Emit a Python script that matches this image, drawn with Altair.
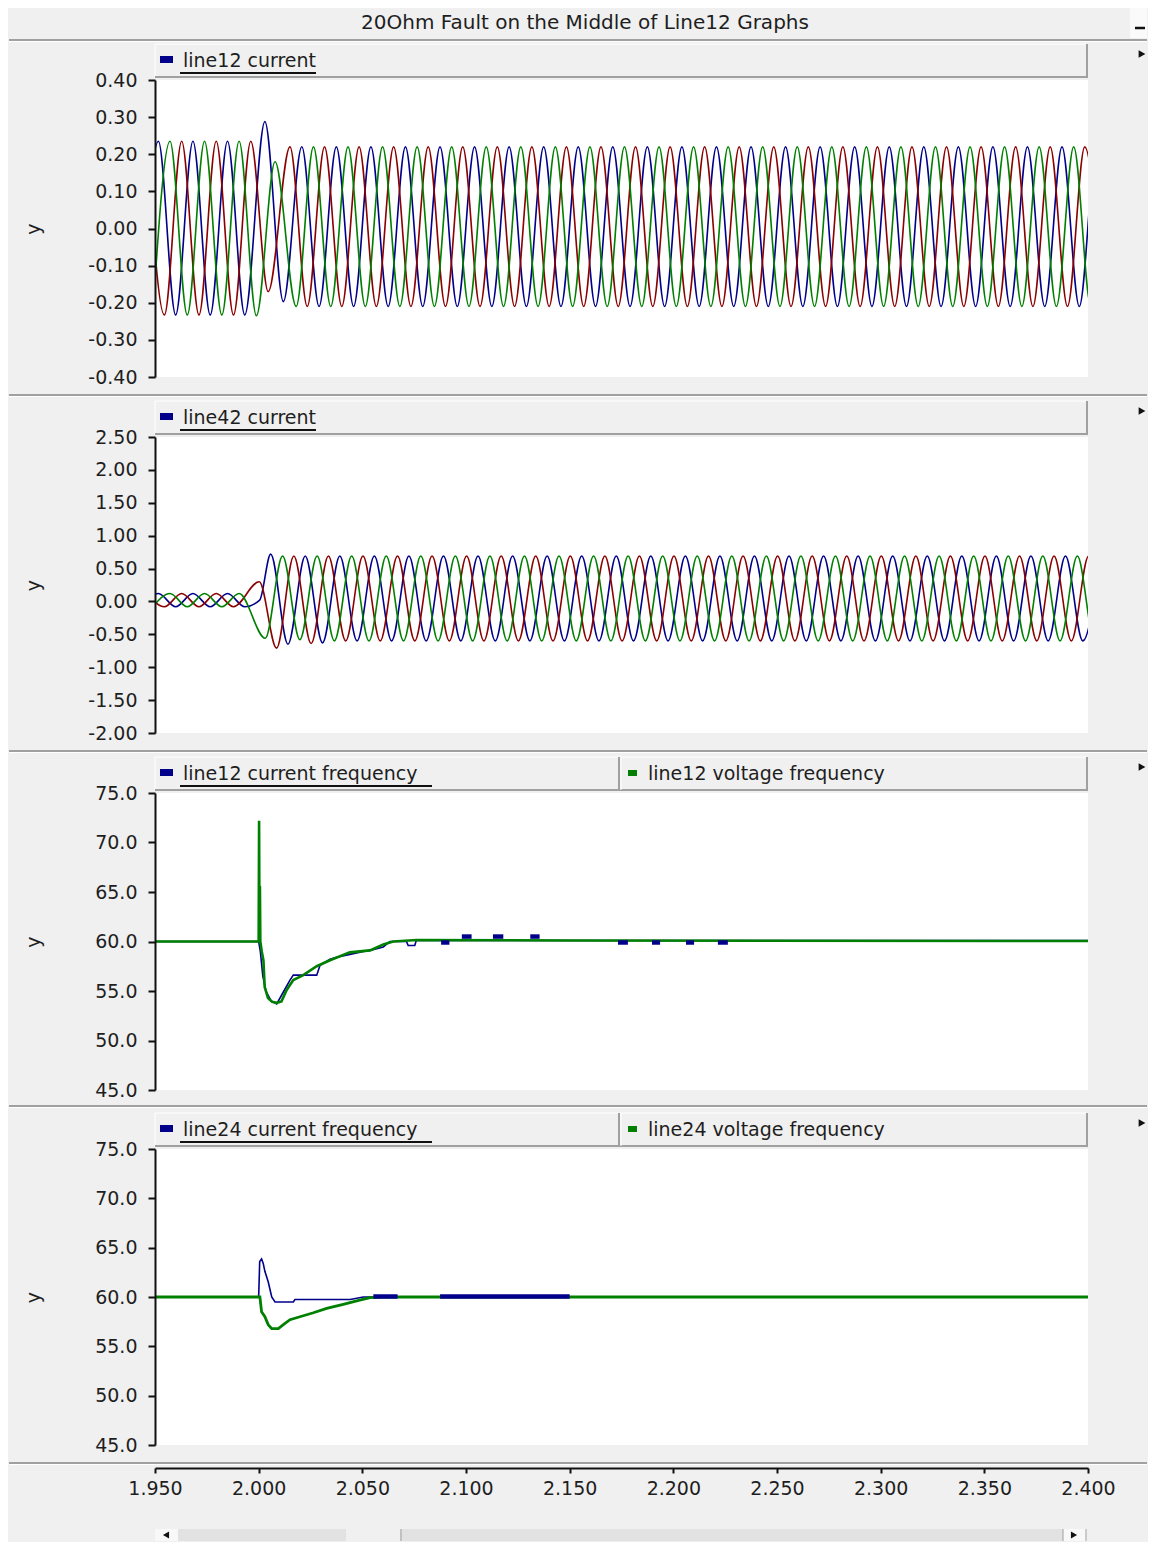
import altair as alt
import pandas as pd

# ---------------------------------------------------------------- text / style
FONT = "DejaVu Sans"
TXT = "#1e1e1e"
BLUE = "#00008b"
RED = "#8b0000"
GREEN = "#008000"
BG = "#f0f0f0"
EDGE = "#a0a0a0"

TITLE = "20Ohm Fault on the Middle of Line12 Graphs"
LEG1 = ["line12 current"]
LEG2 = ["line42 current"]
LEG3 = ["line12 current frequency", "line12 voltage frequency"]
LEG4 = ["line24 current frequency", "line24 voltage frequency"]

X_DOMAIN = [1.95, 2.40]
X_TICKS = [1.95, 2.00, 2.05, 2.10, 2.15, 2.20, 2.25, 2.30, 2.35, 2.40]
Y1_TICKS = [-0.4, -0.3, -0.2, -0.1, 0.0, 0.1, 0.2, 0.3, 0.4]
Y2_TICKS = [-2.0, -1.5, -1.0, -0.5, 0.0, 0.5, 1.0, 1.5, 2.0, 2.5]
YF_TICKS = [45, 50, 55, 60, 65, 70, 75]

# 60 Hz waveforms: one extremum every half cycle
HALF_PERIOD = 1 / 120

# ---------------------------------------------------------------- panel 1: line12 current (3 phases)
L12_A_PRE_T0 = 1.9433
L12_A_PRE = [-0.233, 0.235, -0.233, 0.235, -0.233, 0.235, -0.233]
L12_A_MID_T = [2.0030, 2.0119]
L12_A_MID_V = [0.288, -0.197]
L12_A_POST_T0 = 2.0208
L12_A_POST = [
    0.22, -0.21, 0.22, -0.21, 0.22, -0.21, 0.22, -0.21,
    0.22, -0.21, 0.22, -0.21, 0.22, -0.21, 0.22, -0.21,
    0.22, -0.21, 0.22, -0.21, 0.22, -0.21, 0.22, -0.21,
    0.22, -0.21, 0.22, -0.21, 0.22, -0.21, 0.22, -0.21,
    0.22, -0.21, 0.22, -0.21, 0.22, -0.21, 0.22, -0.21,
    0.22, -0.21, 0.22, -0.21, 0.22, -0.21, 0.22, -0.21,
]

L12_B_PRE_T0 = 1.9489
L12_B_PRE = [-0.233, 0.235, -0.233, 0.235, -0.233, 0.235, -0.235]
L12_B_MID_T = [2.0079]
L12_B_MID_V = [0.18]
L12_B_POST_T0 = 2.0181
L12_B_POST = [
    -0.21, 0.22, -0.21, 0.22, -0.21, 0.22, -0.21, 0.22,
    -0.21, 0.22, -0.21, 0.22, -0.21, 0.22, -0.21, 0.22,
    -0.21, 0.22, -0.21, 0.22, -0.21, 0.22, -0.21, 0.22,
    -0.21, 0.22, -0.21, 0.22, -0.21, 0.22, -0.21, 0.22,
    -0.21, 0.22, -0.21, 0.22, -0.21, 0.22, -0.21, 0.22,
    -0.21, 0.22, -0.21, 0.22, -0.21, 0.22, -0.21, 0.22,
]

L12_C_PRE_T0 = 1.9462
L12_C_PRE = [0.235, -0.233, 0.235, -0.233, 0.235, -0.233, 0.235]
L12_C_MID_T = [2.0046]
L12_C_MID_V = [-0.17]
L12_C_POST_T0 = 2.0151
L12_C_POST = [
    0.22, -0.21, 0.22, -0.21, 0.22, -0.21, 0.22, -0.21,
    0.22, -0.21, 0.22, -0.21, 0.22, -0.21, 0.22, -0.21,
    0.22, -0.21, 0.22, -0.21, 0.22, -0.21, 0.22, -0.21,
    0.22, -0.21, 0.22, -0.21, 0.22, -0.21, 0.22, -0.21,
    0.22, -0.21, 0.22, -0.21, 0.22, -0.21, 0.22, -0.21,
    0.22, -0.21, 0.22, -0.21, 0.22, -0.21, 0.22, -0.21,
]

# ---------------------------------------------------------------- panel 2: line42 current (3 phases)
L42_A_PRE_T0 = 1.9433
L42_A_PRE = [-0.08, 0.12, -0.08, 0.12, -0.08, 0.12, -0.08]
L42_A_MID_T = [2.0005]
L42_A_MID_V = [0.02]
L42_A_POST_T0 = 2.0058
L42_A_POST = [
    0.72, -0.65, 0.69, -0.63, 0.69, -0.60, 0.69, -0.60,
    0.69, -0.60, 0.69, -0.60, 0.69, -0.60, 0.69, -0.60,
    0.69, -0.60, 0.69, -0.60, 0.69, -0.60, 0.69, -0.60,
    0.69, -0.60, 0.69, -0.60, 0.69, -0.60, 0.69, -0.60,
    0.69, -0.60, 0.69, -0.60, 0.69, -0.60, 0.69, -0.60,
    0.69, -0.60, 0.69, -0.60, 0.69, -0.60, 0.69, -0.60,
    0.69,
]

L42_B_PRE_T0 = 1.9489
L42_B_PRE = [-0.08, 0.12, -0.08, 0.12, -0.08, 0.12]
L42_B_MID_T = []
L42_B_MID_V = []
L42_B_POST_T0 = 2.0032
L42_B_POST = [
    -0.56, 0.69, -0.58, 0.69, -0.60, 0.69, -0.60, 0.69,
    -0.60, 0.69, -0.60, 0.69, -0.60, 0.69, -0.60, 0.69,
    -0.60, 0.69, -0.60, 0.69, -0.60, 0.69, -0.60, 0.69,
    -0.60, 0.69, -0.60, 0.69, -0.60, 0.69, -0.60, 0.69,
    -0.60, 0.69, -0.60, 0.69, -0.60, 0.69, -0.60, 0.69,
    -0.60, 0.69, -0.60, 0.69, -0.60, 0.69, -0.60, 0.69,
    -0.60, 0.69,
]

L42_C_PRE_T0 = 1.9462
L42_C_PRE = [0.12, -0.08, 0.12, -0.08, 0.12, -0.08]
L42_C_MID_T = []
L42_C_MID_V = []
L42_C_POST_T0 = 2.0003
L42_C_POST = [
    0.30, -0.71, 0.69, -0.64, 0.69, -0.60, 0.69, -0.60,
    0.69, -0.60, 0.69, -0.60, 0.69, -0.60, 0.69, -0.60,
    0.69, -0.60, 0.69, -0.60, 0.69, -0.60, 0.69, -0.60,
    0.69, -0.60, 0.69, -0.60, 0.69, -0.60, 0.69, -0.60,
    0.69, -0.60, 0.69, -0.60, 0.69, -0.60, 0.69, -0.60,
    0.69, -0.60, 0.69, -0.60, 0.69, -0.60, 0.69, -0.60,
    0.69, -0.60,
]

# ---------------------------------------------------------------- panel 3: line12 frequencies (Hz)
F12_V_T = [1.950, 2.0000, 2.0002, 2.0004, 2.0006, 2.0008, 2.0015, 2.0023, 2.0029, 2.0045,
           2.0065, 2.0087, 2.0110, 2.0135, 2.0167, 2.0215, 2.0280, 2.0344, 2.0440, 2.0537,
           2.0601, 2.0649, 2.0762, 2.1500, 2.4000]
F12_V_V = [60.0, 60.0, 72.2, 60.5, 65.6, 60.0, 59.0, 58.1, 55.4, 54.3,
           53.9, 53.8, 53.95, 55.1, 56.1, 56.6, 57.5, 58.1, 58.9, 59.1,
           59.7, 60.0, 60.15, 60.1, 60.05]

F12_I_T = [1.950, 2.0000, 2.0008, 2.0020, 2.0035, 2.0060, 2.0087, 2.0119, 2.0151, 2.0167,
           2.0280, 2.0296, 2.0344, 2.0376, 2.0440, 2.0505, 2.0537, 2.0601, 2.0633, 2.0713,
           2.0721, 2.0753, 2.0760, 2.4000]
F12_I_V = [60.0, 60.0, 59.0, 56.5, 55.0, 54.0, 53.7, 54.9, 56.1, 56.6,
           56.6, 57.6, 58.2, 58.4, 58.7, 59.0, 59.1, 59.45, 60.0, 60.0,
           59.6, 59.6, 60.1, 60.1]
# short excursions of the current frequency (start, end, value)
F12_I_DASH_T1 = [2.0880, 2.0980, 2.1130, 2.1310, 2.1733, 2.1897, 2.2061, 2.2215]
F12_I_DASH_T2 = [2.0920, 2.1027, 2.1180, 2.1355, 2.1781, 2.1936, 2.2100, 2.2263]
F12_I_DASH_V = [59.9, 60.5, 60.5, 60.5, 59.9, 59.9, 59.9, 59.9]

# ---------------------------------------------------------------- panel 4: line24 frequencies (Hz)
F24_V_T = [1.950, 2.0006, 2.0014, 2.0030, 2.0046, 2.0063, 2.0095, 2.0119, 2.0151, 2.0199,
           2.0264, 2.0328, 2.0408, 2.0473, 2.0537, 2.0601, 2.4000]
F24_V_V = [60.0, 60.0, 58.5, 58.0, 57.2, 56.8, 56.8, 57.2, 57.7, 58.0,
           58.4, 58.85, 59.25, 59.6, 59.93, 60.0, 60.0]

F24_I_T = [1.950, 2.0000, 2.0005, 2.0014, 2.0022, 2.0030, 2.0046, 2.0063, 2.0079, 2.0167,
           2.0175, 2.0441, 2.0505, 2.4000]
F24_I_V = [60.0, 60.0, 63.6, 63.85, 63.4, 62.6, 61.55, 60.0, 59.5, 59.5,
           59.75, 59.75, 60.0, 60.0]
F24_I_DASH_T1 = [2.0553, 2.0875]
F24_I_DASH_T2 = [2.0670, 2.1500]
F24_I_DASH_V = [60.05, 60.05]

# ---------------------------------------------------------------- helpers
W = 933
ONE = pd.DataFrame({"z": [0]})
XS = alt.Scale(domain=X_DOMAIN, nice=False, zero=False)


def phase_df(pre_t0, pre, mid_t, mid_v, post_t0, post):
    t = [pre_t0 + k * HALF_PERIOD for k in range(len(pre))] + list(mid_t) + \
        [post_t0 + k * HALF_PERIOD for k in range(len(post))]
    v = list(pre) + list(mid_v) + list(post)
    return pd.DataFrame({"t": t, "v": v})


def rect(x1, x2, y1, y2, color):
    return alt.Chart(ONE).mark_rect(color=color, opacity=1).encode(
        x=alt.value(x1), x2=alt.value(x2), y=alt.value(y1), y2=alt.value(y2))


def rule(x1, x2, y1, y2, color, width):
    return alt.Chart(ONE).mark_rule(color=color, strokeWidth=width).encode(
        x=alt.value(x1), x2=alt.value(x2), y=alt.value(y1), y2=alt.value(y2))


def text(x, y, s, size=19, align="left"):
    return alt.Chart(ONE).mark_text(text=s, font=FONT, fontSize=size, color=TXT,
                                    align=align, baseline="middle").encode(
        x=alt.value(x), y=alt.value(y))


def tri(x, y, shape, size=60):
    return alt.Chart(ONE).mark_point(shape=shape, filled=True, color="#111",
                                     opacity=1, size=size).encode(
        x=alt.value(x), y=alt.value(y))


def y_axis(ticks, fmt, h):
    return alt.Axis(values=ticks,
                    labelExpr="replace(format(datum.value, '" + fmt + "'), '\u2212', '-')",
                    title="y", titleX=-122, titleY=h / 2, titleAngle=270,
                    titleAlign="center", titleBaseline="middle",
                    titleFont=FONT, titleFontSize=19, titleFontWeight="normal",
                    titleColor=TXT, labelFont=FONT, labelFontSize=19, labelColor=TXT,
                    labelPadding=11, labelOverlap=False, tickSize=7, tickWidth=2,
                    tickColor="#111", domainColor="#111", domainWidth=2, grid=False,
                    zindex=2)


X_AXIS = alt.Axis(values=X_TICKS, format=".3f", offset=23, labelFont=FONT,
                  labelFontSize=19, labelColor=TXT, labelPadding=6, labelFlush=False,
                  labelOverlap=False, tickSize=5, tickWidth=2, tickColor="#111",
                  domainColor="#111", domainWidth=2, grid=False, zindex=2)


def header(labels, colors, underline_to):
    ls = [
        rule(0, 932, -36, -36, "#ffffff", 1),
        rule(0, 0, -36, -3, "#ffffff", 1),
        rule(0, 933, -3, -3, EDGE, 2),
        rule(932, 932, -36, -3, EDGE, 2),
        rect(5, 18, -24, -17, colors[0]),
        text(28, -19, labels[0]),
        rule(25, underline_to, -7, -7, "#111", 2),
        tri(987, -26, "triangle-right"),
    ]
    if len(labels) > 1:
        ls += [
            rule(464, 464, -36, -3, EDGE, 2),
            rule(466, 466, -36, -3, "#ffffff", 1),
            rect(473, 482, -23, -17, colors[1]),
            text(493, -19, labels[1]),
        ]
    return ls


def frame(top, bottom, h, sep_y):
    return [
        rect(-147, 993, top, bottom, BG),
        rect(0, W, 0, h, "#ffffff"),
        rule(-146, 992, sep_y, sep_y, EDGE, 2),
        rule(-146, 992, sep_y + 1.5, sep_y + 1.5, "#ffffff", 1),
    ]


def wave(df, color, ys, ya, xa):
    return alt.Chart(df).mark_line(color=color, strokeWidth=1.6, interpolate="monotone",
                                   clip=True).encode(
        x=alt.X("t:Q", scale=XS, axis=xa, title=None),
        y=alt.Y("v:Q", scale=ys, axis=ya))


def fline(t, v, color, width, ys, ya, xa):
    df = pd.DataFrame({"t": t, "v": v})
    return alt.Chart(df).mark_line(color=color, strokeWidth=width, clip=True).encode(
        x=alt.X("t:Q", scale=XS, axis=xa, title=None),
        y=alt.Y("v:Q", scale=ys, axis=ya))


def dashes(t1, t2, v, ys, ya, xa):
    df = pd.DataFrame({"t": t1, "t2": t2, "v": v})
    return alt.Chart(df).mark_rule(color=BLUE, strokeWidth=4.5, clip=True).encode(
        x=alt.X("t:Q", scale=XS, axis=xa, title=None), x2="t2:Q",
        y=alt.Y("v:Q", scale=ys, axis=ya))


# ---------------------------------------------------------------- panel 1
H1 = 297
ys1 = alt.Scale(domain=[-0.4, 0.4], nice=False, zero=False)
ya1 = y_axis(Y1_TICKS, ".2f", H1)
p1 = alt.layer(
    *frame(-72, 317, H1, 315),
    rule(-146, 992, -40, -40, EDGE, 2),
    rule(-146, 992, -38.5, -38.5, "#ffffff", 1),
    rect(975, 992, -72, -42, "#fafafa"),
    rule(980, 990, -52, -52, "#111", 2.5),
    text(430, -57, TITLE, size=20, align="center"),
    *header(LEG1, [BLUE], 161),
    wave(phase_df(L12_A_PRE_T0, L12_A_PRE, L12_A_MID_T, L12_A_MID_V, L12_A_POST_T0, L12_A_POST), BLUE, ys1, ya1, None),
    wave(phase_df(L12_C_PRE_T0, L12_C_PRE, L12_C_MID_T, L12_C_MID_V, L12_C_POST_T0, L12_C_POST), RED, ys1, ya1, None),
    wave(phase_df(L12_B_PRE_T0, L12_B_PRE, L12_B_MID_T, L12_B_MID_V, L12_B_POST_T0, L12_B_POST), GREEN, ys1, ya1, None),
).properties(width=W, height=H1)

# ---------------------------------------------------------------- panel 2
H2 = 296
ys2 = alt.Scale(domain=[-2.0, 2.5], nice=False, zero=False)
ya2 = y_axis(Y2_TICKS, ".2f", H2)
p2 = alt.layer(
    *frame(-40, 316, H2, 314),
    *header(LEG2, [BLUE], 161),
    wave(phase_df(L42_A_PRE_T0, L42_A_PRE, L42_A_MID_T, L42_A_MID_V, L42_A_POST_T0, L42_A_POST), BLUE, ys2, ya2, None),
    wave(phase_df(L42_C_PRE_T0, L42_C_PRE, L42_C_MID_T, L42_C_MID_V, L42_C_POST_T0, L42_C_POST), RED, ys2, ya2, None),
    wave(phase_df(L42_B_PRE_T0, L42_B_PRE, L42_B_MID_T, L42_B_MID_V, L42_B_POST_T0, L42_B_POST), GREEN, ys2, ya2, None),
).properties(width=W, height=H2)

# ---------------------------------------------------------------- panel 3
H3 = 297
ys3 = alt.Scale(domain=[45, 75], nice=False, zero=False)
ya3 = y_axis(YF_TICKS, ".1f", H3)
p3 = alt.layer(
    *frame(-40, 315, H3, 313),
    *header(LEG3, [BLUE, GREEN], 277),
    fline(F12_I_T, F12_I_V, BLUE, 1.6, ys3, ya3, None),
    fline(F12_V_T, F12_V_V, GREEN, 2.6, ys3, ya3, None),
    dashes(F12_I_DASH_T1, F12_I_DASH_T2, F12_I_DASH_V, ys3, ya3, None),
).properties(width=W, height=H3)

# ---------------------------------------------------------------- panel 4 (+ time axis and scroll bar)
H4 = 296
ys4 = alt.Scale(domain=[45, 75], nice=False, zero=False)
ya4 = y_axis(YF_TICKS, ".1f", H4)
p4 = alt.layer(
    *frame(-41, 392, H4, 314),
    *header(LEG4, [BLUE, GREEN], 277),
    rect(0, 931, 380, 392, "#e2e2e2"),
    rect(0, 23, 380, 392, "#f8f8f8"),
    tri(11, 386, "triangle-left", 50),
    rect(191, 245, 380, 392, "#f0f0f0"),
    rule(246, 246, 380, 392, EDGE, 1),
    rect(908, 931, 380, 392, "#f8f8f8"),
    rule(908, 908, 380, 392, EDGE, 1),
    rule(931, 931, 380, 392, EDGE, 1),
    tri(919, 386, "triangle-right", 50),
    fline(F24_I_T, F24_I_V, BLUE, 1.6, ys4, ya4, X_AXIS),
    fline(F24_V_T, F24_V_V, GREEN, 2.8, ys4, ya4, X_AXIS),
    dashes(F24_I_DASH_T1, F24_I_DASH_T2, F24_I_DASH_V, ys4, ya4, X_AXIS),
).properties(width=W, height=H4)

chart = alt.vconcat(p1, p2, p3, p4, spacing=0).properties(
    background=BG, padding=0
).configure_view(strokeWidth=0)

chart.save("out.html", embed_options={"renderer": "svg", "actions": False})
